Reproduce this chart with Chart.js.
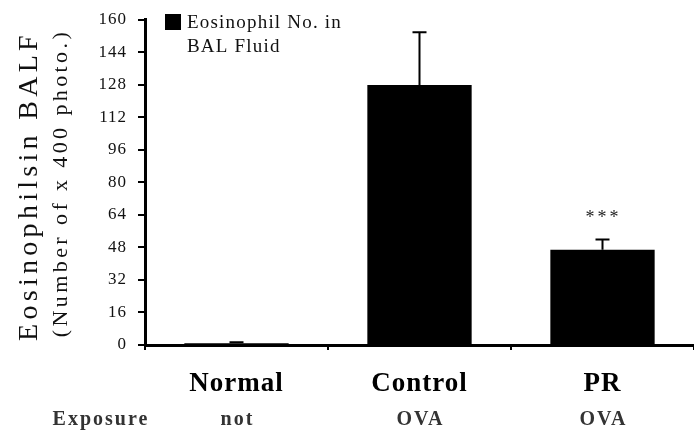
<!DOCTYPE html>
<html>
<head>
<meta charset="utf-8">
<script src="https://cdn.jsdelivr.net/npm/chart.js@4"></script>
<style>
  html, body { margin: 0; padding: 0; background: #fff; }
  #wrap { width: 694px; height: 430px; }
</style>
</head>
<body>
<div id="wrap"><canvas id="grafico"></canvas></div>
<script>
// dados
const categories = ["Normal", "Control", "PR"];
const exposure = ["not", "OVA", "OVA"];
const eosinophils = [0.8, 127.8, 46.8];
const errorTop = [1.3, 153.7, 51.8];
const stars = ["", "", "***"];
const yTicks = [0, 16, 32, 48, 64, 80, 96, 112, 128, 144, 160];

const serif = "'Liberation Serif', 'Times New Roman', serif";

// espaçamento de letras para os rótulos dos eixos
const spacing = {
    id: "spacing",
    beforeDraw(chart) {
        chart.ctx.letterSpacing = "1px";
    }
};

// barras de erro, asteriscos, título do eixo y, legenda e linha "Exposure"
const extras = {
    id: "extras",
    afterDatasetsDraw(chart) {
        const ctx = chart.ctx;
        const x = chart.scales.x, y = chart.scales.y;
        ctx.save();
        ctx.strokeStyle = "#000";
        ctx.lineWidth = 2;
        errorTop.forEach((v, i) => {
            const px = x.getPixelForValue(i);
            const y0 = y.getPixelForValue(eosinophils[i]);
            const y1 = y.getPixelForValue(v);
            ctx.beginPath();
            ctx.moveTo(px, y0);
            ctx.lineTo(px, y1);
            ctx.moveTo(px - 7, y1);
            ctx.lineTo(px + 7, y1);
            ctx.stroke();
        });
        ctx.fillStyle = "#222";
        ctx.font = "18px " + serif;
        ctx.letterSpacing = "3px";
        ctx.textAlign = "center";
        ctx.textBaseline = "alphabetic";
        stars.forEach((s, i) => {
            if (!s) return;
            ctx.fillText(s, x.getPixelForValue(i) + 1, y.getPixelForValue(errorTop[i]) - 17);
        });
        ctx.restore();
    },
    afterDraw(chart) {
        const ctx = chart.ctx;
        const x = chart.scales.x;
        ctx.save();

        // título do eixo y
        ctx.rotate(-Math.PI / 2);
        ctx.textAlign = "center";
        ctx.textBaseline = "middle";
        ctx.fillStyle = "#111";
        ctx.font = "28px " + serif;
        ctx.letterSpacing = "4.3px";
        ctx.fillText("Eosinophilsin BALF", -186, 30);
        ctx.font = "22px " + serif;
        ctx.letterSpacing = "3.4px";
        ctx.fillText("(Number of x 400 photo.)", -183, 61);
        ctx.setTransform(1, 0, 0, 1, 0, 0);

        // legenda
        const ds = chart.data.datasets[0];
        ctx.fillStyle = ds.backgroundColor;
        ctx.fillRect(165, 14, 16, 16);
        ctx.fillStyle = "#111";
        ctx.font = "19px " + serif;
        ctx.letterSpacing = "1.2px";
        ctx.textAlign = "left";
        ctx.textBaseline = "alphabetic";
        ds.label.forEach((line, i) => ctx.fillText(line, 187, 28 + i * 24));

        // linha de exposição
        ctx.fillStyle = "#333";
        ctx.font = "bold 20px " + serif;
        ctx.letterSpacing = "2px";
        ctx.textAlign = "center";
        ctx.fillText("Exposure", 101, 425);
        exposure.forEach((e, i) => ctx.fillText(e, x.getPixelForValue(i) + 1, 425));
        ctx.restore();
    }
};

new Chart(document.getElementById("grafico"), {
    type: "bar",
    data: {
        labels: categories,
        datasets: [{
            label: ["Eosinophil No. in", "BAL Fluid"],
            data: eosinophils,
            backgroundColor: "#000",
            barPercentage: 0.57,
            categoryPercentage: 1
        }]
    },
    options: {
        responsive: true,
        maintainAspectRatio: false,
        animation: false,
        layout: { padding: { top: 6, right: 0, left: 0, bottom: 0 } },
        plugins: {
            legend: { display: false },
            tooltip: { enabled: false }
        },
        scales: {
            x: {
                offset: true,
                grid: {
                    offset: true,
                    drawOnChartArea: false,
                    color: "#000",
                    lineWidth: 2,
                    tickLength: 5
                },
                border: { color: "#000", width: 3 },
                ticks: {
                    color: "#000",
                    padding: 18,
                    font: { family: serif, size: 27, weight: "bold" }
                },
                afterFit: s => { s.height = 85; }
            },
            y: {
                min: 0,
                max: 160,
                afterBuildTicks: s => { s.ticks = yTicks.map(v => ({ value: v })); },
                grid: {
                    drawOnChartArea: false,
                    color: "#000",
                    lineWidth: 2,
                    tickLength: 7
                },
                border: { color: "#000", width: 3 },
                ticks: {
                    color: "#111",
                    padding: 11,
                    font: { family: serif, size: 17, lineHeight: 1 }
                },
                afterFit: s => { s.width = 145; }
            }
        }
    },
    plugins: [spacing, extras]
});
</script>
</body>
</html>
